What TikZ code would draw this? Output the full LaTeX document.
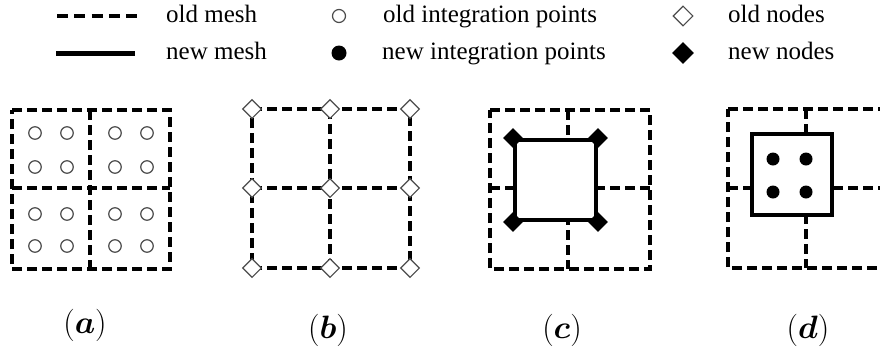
\documentclass[tikz,border=0pt]{standalone}
\usepackage{amsmath}
\usepackage{graphicx}
\usepackage{fontspec}
\setmainfont{Liberation Serif}
\usetikzlibrary{shapes.geometric}

\begin{document}
\begin{tikzpicture}[x=1pt,y=-1pt,
  oldmesh/.style={line width=4pt, dash pattern=on 10pt off 5pt},
  newmesh/.style={line width=4pt},
  newcell/.style={rectangle, draw=black, fill=white, line width=4pt, inner sep=0pt},
  oldip/.style={circle, draw=black!70, line width=1.2pt, fill=white, minimum size=12.5pt, inner sep=0pt},
  newip/.style={circle, fill=black, minimum size=13pt, inner sep=0pt},
  oldnode/.style={diamond, draw=black!70, line width=1.1pt, fill=white, minimum size=19pt, inner sep=0pt},
  newnode/.style={diamond, fill=black, minimum size=20pt, inner sep=0pt},
  legendtext/.style={anchor=base west, inner sep=0pt, font=\fontsize{25}{30}\selectfont},
  caption/.style={inner sep=0pt, font=\fontsize{24}{30}\selectfont}
]
\useasboundingbox (0,0) rectangle (880,349);

% ---------- legend ----------
\coordinate (lgoA) at (57,16);  \coordinate (lgoB) at (137,16);
\coordinate (lgnA) at (56,53);  \coordinate (lgnB) at (135,53);
\draw[line width=4pt, dash pattern=on 11pt off 6.25pt] (lgoA) -- (lgoB);
\draw[line width=5pt] (lgnA) -- (lgnB);
\node[legendtext] (lgoldmesh) at (166,22) {old mesh};
\node[legendtext] (lgnewmesh) at (166,59) {new mesh};
\node[oldip, minimum size=13pt] (lgoldip) at (339,16) {};
\node[newip, minimum size=15pt] (lgnewip) at (339,53) {};
\node[legendtext] (lgoldiptext) at (383,22) {old integration points};
\node[legendtext] (lgnewiptext) at (382,59) {new integration points};
\node[oldnode, minimum size=20pt] (lgoldnode) at (683,16) {};
\node[newnode, minimum size=22pt] (lgnewnode) at (683,53) {};
\node[legendtext] (lgoldnodetext) at (728,22) {old nodes};
\node[legendtext] (lgnewnodetext) at (728,59) {new nodes};

% ---------- (a) old mesh with old integration points ----------
\foreach \n/\x/\y in {NW/12/110, N/90/110, NE/170/110, W/12/188, C/90/188, E/170/188, SW/12/269, S/90/269, SE/170/269}
  \coordinate (a\n) at (\x,\y);
\draw[oldmesh] (aNW) -- (aNE) -- (aSE) -- (aSW) -- cycle;
\draw[oldmesh] (aN) -- (aS);
\draw[oldmesh] (aW) -- (aE);
\foreach \x [count=\i] in {35,67,115,147}
  \foreach \y [count=\j] in {133,167,214,246}
    \node[oldip] (aip\i\j) at (\x,\y) {};
\node[caption] (capa) at (85,325) {\scalebox{1.3}{$(\boldsymbol{a})$}};

% ---------- (b) old mesh with old nodes ----------
\foreach \n/\x/\y in {NW/252/109, N/330/109, NE/410/109, W/252/188, C/330/188, E/410/188, SW/252/268, S/330/268, SE/410/268}
  \coordinate (b\n) at (\x,\y);
\draw[oldmesh] (bNW) -- (bNE) -- (bSE) -- (bSW) -- cycle;
\draw[oldmesh] (bN) -- (bS);
\draw[oldmesh] (bW) -- (bE);
\foreach \n in {NW,N,NE,W,C,E,SW,S,SE}
  \node[oldnode] (bnode\n) at (b\n) {};
\node[caption] (capb) at (328,330) {\scalebox{1.3}{$(\boldsymbol{b})$}};

% ---------- (c) new element with new nodes ----------
\foreach \n/\x/\y in {NW/490/110, N/568/110, NE/650/110, W/490/188, C/568/188, E/650/188, SW/490/269, S/568/269, SE/650/269}
  \coordinate (c\n) at (\x,\y);
\draw[oldmesh] (cNW) -- (cNE) -- (cSE) -- (cSW) -- cycle;
\draw[oldmesh] (cN) -- (cS);
\draw[oldmesh] (cW) -- (cE);
\node[newcell, minimum width=81pt, minimum height=80pt] (cbox) at (555.5,180) {};
\foreach \a in {north west, north east, south west, south east}
  \node[newnode] (cnode \a) at (cbox.\a) {};
\node[caption] (capc) at (562,330) {\scalebox{1.3}{$(\boldsymbol{c})$}};

% ---------- (d) new element with new integration points ----------
\begin{scope}
\clip (0,0) rectangle (880,349);
\foreach \n/\x/\y in {NW/728/109, N/806/109, NE/888/109, W/728/188, C/806/188, E/888/188, SW/728/268, S/806/268, SE/888/268}
  \coordinate (d\n) at (\x,\y);
\draw[oldmesh] (dNW) -- (dNE) -- (dSE) -- (dSW) -- cycle;
\draw[oldmesh] (dN) -- (dS);
\draw[oldmesh] (dW) -- (dE);
\node[newcell, minimum width=80pt, minimum height=81pt] (dbox) at (792,174.5) {};
\foreach \x [count=\i] in {773,806}
  \foreach \y [count=\j] in {159,192}
    \node[newip] (dip\i\j) at (\x,\y) {};
\end{scope}
\node[caption] (capd) at (808,330) {\scalebox{1.3}{$(\boldsymbol{d})$}};
\end{tikzpicture}
\end{document}
